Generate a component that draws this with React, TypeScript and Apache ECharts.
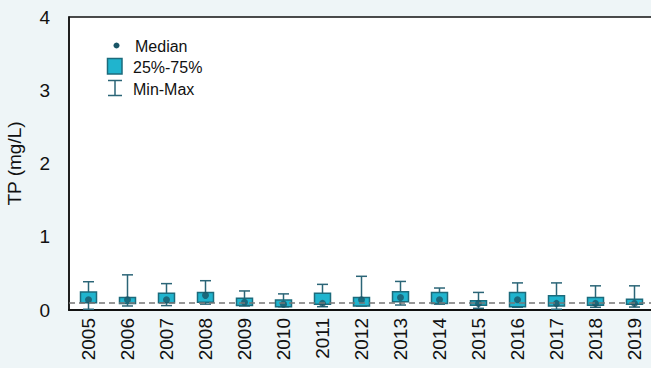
import React, { useEffect, useRef } from "react";
import * as echarts from "echarts";

const years = ["2005","2006","2007","2008","2009","2010","2011","2012","2013","2014","2015","2016","2017","2018","2019"];
const minVals = [0.01, 0.055, 0.06, 0.08, 0.055, 0.045, 0.045, 0.055, 0.068, 0.08, 0.023, 0.037, 0.01, 0.037, 0.04];
const q1Vals = [0.1, 0.09, 0.1, 0.105, 0.06, 0.045, 0.078, 0.055, 0.113, 0.09, 0.064, 0.045, 0.055, 0.064, 0.078];
const medianVals = [0.14, 0.14, 0.14, 0.2, 0.105, 0.08, 0.09, 0.14, 0.17, 0.14, 0.09, 0.14, 0.09, 0.09, 0.09];
const q3Vals = [0.246, 0.17, 0.23, 0.24, 0.16, 0.135, 0.23, 0.17, 0.25, 0.24, 0.127, 0.24, 0.195, 0.17, 0.146];
const maxVals = [0.386, 0.48, 0.36, 0.4, 0.26, 0.22, 0.35, 0.46, 0.39, 0.3, 0.24, 0.37, 0.37, 0.33, 0.33];
const refLine = 0.1;
const yTicks = [0, 1, 2, 3, 4];

const BOX_FILL = "#20B4CE";
const BOX_STROKE = "#1C6B7C";
const WHISKER = "#2B6577";
const DOT = "#1A5566";
const FONT = "Liberation Sans, Arial, sans-serif";

export default function App() {
  const ref = useRef<HTMLDivElement>(null);
  useEffect(() => {
    document.body.style.margin = "0";
    if (!ref.current) return;
    const chart = echarts.init(ref.current, null, { renderer: "svg" });
    const boxData = years.map((_, i) => [i, minVals[i], q1Vals[i], q3Vals[i], maxVals[i]]);
    chart.setOption({
      animation: false,
      backgroundColor: "#EEF5F7",
      textStyle: { fontFamily: FONT },
      grid: {
        left: 69, right: -3, top: 17, bottom: 58,
        outerBoundsMode: "none",
        containLabel: false,
        show: true, backgroundColor: "#ffffff", borderColor: "#111", borderWidth: 1.5,
      },
      xAxis: {
        type: "category",
        data: years,
        axisLine: { show: true, lineStyle: { color: "#111", width: 2 } },
        axisTick: { show: false },
        axisLabel: { rotate: 90, fontSize: 19, color: "#111", margin: 8 },
        splitLine: { show: false },
      },
      yAxis: {
        type: "value",
        min: 0, max: 4, interval: 1,
        name: "TP (mg/L)",
        nameLocation: "middle",
        nameGap: 45,
        nameTextStyle: { fontSize: 19, color: "#111" },
        axisLine: { show: true, lineStyle: { color: "#111", width: 1.5 } },
        axisTick: { show: false },
        axisLabel: { fontSize: 19, color: "#111", margin: 19, formatter: (v: number) => (yTicks.includes(v) ? String(v) : "") },
        splitLine: { show: false },
      },
      series: [
        {
          type: "line",
          data: [],
          z: 1,
          markLine: {
            silent: true,
            symbol: "none",
            label: { show: false },
            lineStyle: { type: [6, 4], color: "#777", width: 1.5 },
            data: [{ yAxis: refLine }],
          },
        },
        {
          type: "custom",
          z: 3,
          data: boxData,
          renderItem: (params: any, api: any) => {
            const idx = api.value(0);
            const pMin = api.coord([idx, api.value(1)]);
            const pQ1 = api.coord([idx, api.value(2)]);
            const pQ3 = api.coord([idx, api.value(3)]);
            const pMax = api.coord([idx, api.value(4)]);
            const x = pMin[0];
            const bw = 16;
            const cw = 11;
            return {
              type: "group",
              children: [
                { type: "line", shape: { x1: x, y1: pMax[1], x2: x, y2: pMin[1] }, style: { stroke: WHISKER, lineWidth: 1.5 } },
                { type: "line", shape: { x1: x - cw / 2, y1: pMax[1], x2: x + cw / 2, y2: pMax[1] }, style: { stroke: WHISKER, lineWidth: 1.5 } },
                { type: "line", shape: { x1: x - cw / 2, y1: pMin[1], x2: x + cw / 2, y2: pMin[1] }, style: { stroke: WHISKER, lineWidth: 1.5 } },
                { type: "rect", shape: { x: x - bw / 2, y: pQ3[1], width: bw, height: pQ1[1] - pQ3[1] }, style: { fill: BOX_FILL, stroke: BOX_STROKE, lineWidth: 1.5 } },
              ],
            };
          },
        },
        {
          type: "scatter",
          z: 4,
          data: medianVals.map((v, i) => [i, v]),
          symbol: "circle",
          symbolSize: 7,
          itemStyle: { color: DOT },
        },
      ],
      graphic: [
        { type: "circle", shape: { cx: 116.5, cy: 45.5, r: 3 }, style: { fill: DOT } },
        { type: "rect", shape: { x: 107.5, y: 58.5, width: 14.5, height: 15.5 }, style: { fill: BOX_FILL, stroke: BOX_STROKE, lineWidth: 1.5 } },
        { type: "line", shape: { x1: 115, y1: 80.5, x2: 115, y2: 95.5 }, style: { stroke: WHISKER, lineWidth: 1.5 } },
        { type: "line", shape: { x1: 108, y1: 80.5, x2: 122, y2: 80.5 }, style: { stroke: WHISKER, lineWidth: 1.5 } },
        { type: "line", shape: { x1: 108, y1: 95.5, x2: 122, y2: 95.5 }, style: { stroke: WHISKER, lineWidth: 1.5 } },
        { type: "text", x: 135, y: 46, style: { text: "Median", fontSize: 16, fill: "#111", verticalAlign: "middle", fontFamily: FONT } },
        { type: "text", x: 133, y: 67, style: { text: "25%-75%", fontSize: 16, fill: "#111", verticalAlign: "middle", fontFamily: FONT } },
        { type: "text", x: 133, y: 89, style: { text: "Min-Max", fontSize: 16, fill: "#111", verticalAlign: "middle", fontFamily: FONT } },
      ],
    });
    return () => chart.dispose();
  }, []);
  return <div ref={ref} style={{ width: 651, height: 368 }} />;
}
